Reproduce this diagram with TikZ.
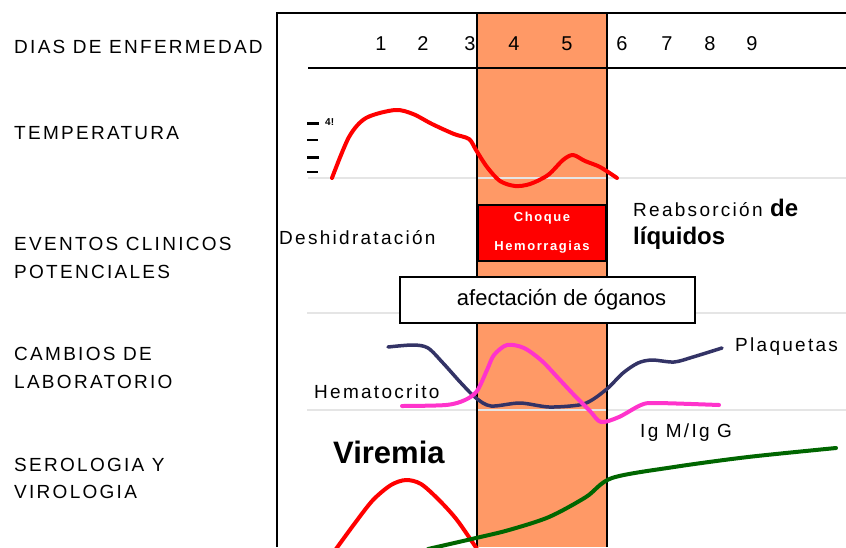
\documentclass[tikz,border=0pt]{standalone}
\usepackage{fontspec}
\usepackage{xcolor}
\usepackage{tikz}
\setmainfont{Liberation Sans}
\newfontfamily\pixfont[LetterSpace=12]{Liberation Sans}
\definecolor{banda}{HTML}{FF9966}
\definecolor{plaq}{HTML}{333366}
\definecolor{hemato}{HTML}{FF33CC}
\definecolor{igverde}{HTML}{006600}
\tikzset{
	rowlabel/.style={anchor=west, inner sep=0pt, align=left, font=\pixfont\fontsize{19}{28}\selectfont},
	daynum/.style={inner sep=0pt, font=\pixfont\fontsize{20}{24}\selectfont},
	small/.style={anchor=west, inner sep=0pt, align=left, font=\pixfont\fontsize{19}{28}\selectfont},
	curve/.style={line width=4pt, line cap=round, line join=round},
	guide/.style={gray!20, line width=1.5pt}
}

\begin{document}
\begin{tikzpicture}[x=1pt,y=-1pt]
			\useasboundingbox (0,0) rectangle (846,547);
			\fill[white] (0,0) rectangle (846,547);
			\fill[banda] (477,13) rectangle (607,547);

			\draw[guide] (308,178) -- (846,178);
			\draw[guide] (307,313) -- (846,313);
			\draw[guide] (307,410) -- (846,410);
			\draw[line width=2pt] (277,547) -- (277,13) -- (846,13);
			\draw[line width=1.5pt] (308,68) -- (846,68);
			\draw[line width=2.5pt] (477,13) -- (477,547) (607,13) -- (607,547);

			\node[rowlabel] (dias) at (14,47) {DIAS DE ENFERMEDAD};
			\node[rowlabel] (temp) at (14,133) {TEMPERATURA};
			\node[rowlabel] (eventos) at (14,258) {EVENTOS CLINICOS\\POTENCIALES};
			\node[rowlabel] (cambios) at (14,368) {CAMBIOS DE\\LABORATORIO};
			\node[rowlabel, font=\pixfont\fontsize{19}{27}\selectfont] (serol) at (14,478.5) {SEROLOGIA Y\\VIROLOGIA};

			\foreach \d/\x in {1/381,2/423,3/470,4/514,5/567,6/622,7/667,8/710,9/752}
				\node[daynum] (dia\d) at (\x,44) {\d};

			\draw[line width=3pt] (307,123) -- (319,123) (307,157) -- (319,157);
			\draw[line width=1.5pt] (307,140) -- (318,140) (307,172) -- (318,172);
			\node[anchor=west, inner sep=0pt, font=\fontsize{10}{12}\selectfont\bfseries] (grados) at (325,122) {4!};
			\draw[curve, red] plot[smooth] coordinates {(332,178) (349,137) (366,118) (395,110) (413,114) (432,124) (454,134) (469,139) (476,150) (487,167) (500,181) (515,186) (530,184) (548,175) (563,160) (573,155) (585,161) (600,167) (617,178)};

			\node[draw, line width=2.5pt, fill=red, text=white, minimum width=128pt, minimum height=56pt, align=center, font=\bfseries\fontsize{13}{29}\addfontfeature{LetterSpace=12}\selectfont] (choque) at (542,233) {Choque\\Hemorragias};
			\node[small] (deshid) at (279,238) {Deshidratación};
			\node[small, anchor=north west] (reabs) at (633,199) {Reabsorción {\normalfont\bfseries\fontsize{24}{28}\selectfont de}\\{\normalfont\bfseries\fontsize{24}{28}\selectfont líquidos}};
			\node[draw, line width=1.5pt, fill=white, minimum width=295pt, minimum height=46pt, inner sep=0pt, font=\fontsize{22}{26}\selectfont] (organos) at (547.5,300) {\hspace*{28pt}afectación de óganos};

			\draw[curve, line width=3.5pt, plaq] plot[smooth] coordinates {(388,347) (413,345) (428,348) (443,363) (461,383) (476,398) (491,406) (520,403) (549,407) (579,405) (592,400) (608,388) (623,373) (638,363) (652,360) (674,362) (693,357) (722,348)};
			\draw[curve, hemato] plot[smooth] coordinates {(402,406) (446,405) (465,400) (477,391) (487,370) (494,355) (507,345) (524,348) (542,361) (560,380) (575,396) (590,411) (601,422) (619,417) (641,405) (656,403) (719,405)};
			\node[small] (plaquetas) at (735,347) {Plaquetas};
			\node[small] (hematocrito) at (314,392) {Hematocrito};
			\node[small] (igmg) at (640,433) {Ig M/Ig G};

			\node[anchor=west, inner sep=0pt, font=\bfseries\fontsize{31}{36}\selectfont] (viremia) at (333,452) {Viremia};
			\draw[curve, red] plot[smooth] coordinates {(336,549) (355,523) (373,500) (391,485) (406,480) (421,484) (439,500) (457,520) (477,549)};
			\draw[curve, igverde] plot[smooth] coordinates {(428,549) (476,538) (509,530) (549,517) (586,497) (612,478) (674,467) (748,457) (836,448)};

		\end{tikzpicture}
\end{document}
